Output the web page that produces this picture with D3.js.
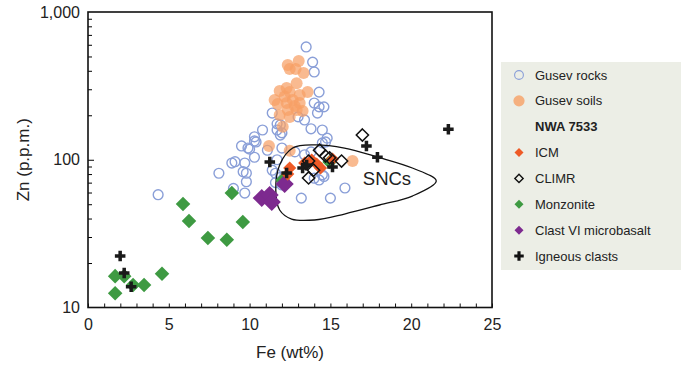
<!DOCTYPE html>
<html>
<head>
<meta charset="utf-8">
<script src="https://d3js.org/d3.v7.min.js"></script>
<style>
  body { margin: 0; background: #fff; }
  svg { font-family: "Liberation Sans", Arial, Helvetica, sans-serif; }
</style>
</head>
<body>
<div id="chart"></div>
<script>
// Data: [Fe wt%, Zn ppm]
const gusevRocks = [
  [4.34, 58], [13.5, 580], [13.9, 458], [14.0, 393], [14.3, 287], [14.0, 242], [14.3, 228],
  [14.6, 228], [14.2, 207], [11.4, 207], [11.7, 175], [11.7, 159], [12.0, 152], [10.8, 159],
  [10.3, 143], [10.3, 134], [13.4, 186], [13.8, 162], [14.5, 159], [14.8, 140], [14.7, 132],
  [9.5, 124], [13.0, 195], [9.9, 120], [9.1, 97], [9.7, 95], [9.6, 83], [9.8, 71], [9.7, 59.5],
  [13.2, 55], [15.0, 55], [15.9, 64.4], [14.5, 79], [13.4, 108], [14.5, 130], [8.1, 81],
  [8.9, 95], [10.0, 118], [10.3, 104], [10.4, 132], [9.8, 81], [9.0, 64], [11.9, 147],
  [11.1, 116], [11.7, 100], [11.6, 81], [11.6, 70], [11.9, 172], [12.0, 120], [13.8, 113],
  [14.6, 77], [11.9, 76], [12.0, 67.5], [12.8, 113], [14.0, 75], [14.3, 73], [11.4, 85]
];
const gusevSoils = [
  [12.36, 438], [13.04, 466], [12.85, 411], [12.48, 411], [13.34, 386], [12.91, 330],
  [12.29, 306], [11.86, 292], [13.59, 287], [12.48, 287], [13.1, 274], [12.67, 254],
  [11.74, 238], [12.29, 242], [13.1, 242], [13.28, 214], [12.91, 217], [12.36, 217],
  [11.86, 201], [12.48, 195], [12.05, 167], [11.2, 124], [12.48, 115], [16.37, 98],
  [11.55, 254], [12.17, 268], [12.79, 231]
];
const icm = [[12.48, 88], [12.36, 80], [13.41, 95], [13.84, 99.6], [14.15, 93.6], [14.39, 88], [15.13, 101]];
const climr = [[16.98, 147], [14.33, 116], [14.7, 106], [15.69, 98], [13.65, 98], [13.96, 85], [13.65, 75.3], [14.95, 103]];
const monzonite = [
  [8.9, 59.6], [5.88, 50.2], [6.25, 38.5], [7.42, 29.5], [8.59, 28.7], [9.58, 37.9],
  [1.68, 16.3], [2.24, 16.3], [1.68, 12.5], [2.79, 14.2], [3.47, 14.2], [4.58, 16.9],
  [14.95, 96.6], [12.05, 73]
];
const clastVI = [[10.75, 55.1], [11.24, 57.7], [11.37, 51.8], [12.17, 68.5]];
const igneous = [
  [22.3, 161], [17.23, 124], [17.91, 104], [11.25, 96.6], [12.29, 81.4], [13.28, 87.9],
  [13.53, 92], [15.13, 89.3], [1.99, 22.3], [2.24, 17.1], [2.67, 13.8]
];
// SNC field outline
const sncField = [
  [21.55, 71.8], [20.07, 87.9], [17.91, 104.4], [15.87, 120], [14.02, 126], [12.67, 120],
  [11.86, 92.2], [11.62, 62.4], [11.86, 45.7], [12.6, 39.7], [14.02, 39.1], [15.87, 42.9],
  [18.04, 49.4], [20.07, 56.8]
];

const xTicks = [0, 5, 10, 15, 20, 25];
const yTicks = [10, 100, 1000];

const width = 681, height = 367;
const margin = { top: 12, right: 189, bottom: 59.5, left: 88 };

const svg = d3.select("#chart").append("svg")
  .attr("width", width)
  .attr("height", height);

const x = d3.scaleLinear().domain([0, 25]).range([margin.left, width - margin.right]);
const y = d3.scaleLog().domain([10, 1000]).range([height - margin.bottom, margin.top]);

const diamond = d3.symbol().type(d3.symbolDiamond2);

// blue open circles
svg.append("g").selectAll("circle").data(gusevRocks).enter().append("circle")
  .attr("cx", d => x(d[0])).attr("cy", d => y(d[1])).attr("r", 4.9)
  .attr("fill", "none").attr("stroke", "#8a9fd8").attr("stroke-width", 1.4);

// orange soils
svg.append("g").selectAll("circle").data(gusevSoils).enter().append("circle")
  .attr("cx", d => x(d[0])).attr("cy", d => y(d[1])).attr("r", 6)
  .attr("fill", "#f7a065").attr("fill-opacity", 0.72);

// SNC outline
svg.append("path")
  .datum(sncField)
  .attr("d", d3.line().x(d => x(d[0])).y(d => y(d[1])).curve(d3.curveCatmullRomClosed.alpha(0.5)))
  .attr("fill", "none").attr("stroke", "#111").attr("stroke-width", 1.3);

svg.append("text").attr("x", x(18.5)).attr("y", y(67)).attr("text-anchor", "middle")
  .attr("font-size", 18.5).attr("fill", "#222").text("SNCs");

function diamonds(data, size, fill, stroke) {
  svg.append("g").selectAll("path").data(data).enter().append("path")
    .attr("transform", d => `translate(${x(d[0])},${y(d[1])})`)
    .attr("d", diamond.size(size)())
    .attr("fill", fill)
    .attr("stroke", stroke || "none")
    .attr("stroke-width", stroke ? 1.5 : 0);
}
diamonds(monzonite, 135, "#3e9a42");
diamonds(clastVI, 210, "#7d2a8f");
diamonds(icm, 110, "#ee5a26");
diamonds(climr, 95, "none", "#111");

const plus = d3.symbol().type(d3.symbolCross).size(62);
svg.append("g").selectAll("path").data(igneous).enter().append("path")
  .attr("transform", d => `translate(${x(d[0])},${y(d[1])})`)
  .attr("d", plus()).attr("fill", "#1a1a1a");

// axes
const xAxis = svg.append("g")
  .attr("transform", `translate(0,${height - margin.bottom})`)
  .call(d3.axisBottom(x).tickValues(d3.range(0, 26, 1)).tickSize(-4).tickPadding(8)
    .tickFormat(d => xTicks.includes(d) ? d : ""));
xAxis.select(".domain").remove();
xAxis.selectAll("text").attr("font-size", 16).attr("fill", "#222").attr("dy", "0.75em").attr("y", 10);
xAxis.selectAll("line").attr("stroke", "#111");

const minorY = [20, 30, 40, 50, 60, 70, 80, 90, 200, 300, 400, 500, 600, 700, 800, 900];
const yAxis = svg.append("g")
  .attr("transform", `translate(${margin.left},0)`)
  .call(d3.axisLeft(y).tickValues(yTicks).tickSize(0).tickPadding(8).tickFormat(d3.format(",")));
yAxis.select(".domain").remove();
yAxis.selectAll("text").attr("font-size", 16).attr("fill", "#222");

svg.append("g").attr("transform", `translate(${margin.left},0)`)
  .call(d3.axisRight(y).tickValues(minorY).tickSize(4).tickFormat(""))
  .call(g => g.select(".domain").remove());
svg.append("g").attr("transform", `translate(${margin.left},0)`)
  .call(d3.axisRight(y).tickValues([100]).tickSize(6).tickFormat(""))
  .call(g => g.select(".domain").remove());

// frame
svg.append("rect")
  .attr("x", margin.left).attr("y", margin.top)
  .attr("width", width - margin.left - margin.right)
  .attr("height", height - margin.top - margin.bottom)
  .attr("fill", "none").attr("stroke", "#111").attr("stroke-width", 1.6);

svg.append("text").attr("x", (x(0) + x(25)) / 2).attr("y", 358).attr("text-anchor", "middle")
  .attr("font-size", 17).attr("fill", "#222").text("Fe (wt%)");
svg.append("text").attr("transform", `translate(29,${y(100)}) rotate(-90)`).attr("text-anchor", "middle")
  .attr("font-size", 17).attr("fill", "#222").text("Zn (p.p.m.)");

// legend
const legendItems = [
  { label: "Gusev rocks", kind: "ring" },
  { label: "Gusev soils", kind: "dot" },
  { label: "NWA 7533", kind: "header" },
  { label: "ICM", kind: "diamond", color: "#ee5a26" },
  { label: "CLIMR", kind: "open" },
  { label: "Monzonite", kind: "diamond", color: "#3e9a42" },
  { label: "Clast VI microbasalt", kind: "diamond", color: "#7d2a8f" },
  { label: "Igneous clasts", kind: "plus" }
];
const legend = svg.append("g");
legend.append("rect").attr("x", 501).attr("y", 62).attr("width", 180).attr("height", 208).attr("fill", "#eceee6");
const rowY = d3.scaleLinear().domain([0, 7]).range([75, 256]);
const rows = legend.selectAll("g.item").data(legendItems).enter().append("g")
  .attr("class", "item")
  .attr("transform", (d, i) => `translate(519,${rowY(i)})`);
rows.each(function (d) {
  const g = d3.select(this);
  if (d.kind === "ring") g.append("circle").attr("r", 4.4).attr("fill", "none").attr("stroke", "#8a9fd8").attr("stroke-width", 1.1);
  if (d.kind === "dot") g.append("circle").attr("r", 5.6).attr("fill", "#f7a065").attr("fill-opacity", 0.8);
  if (d.kind === "diamond") g.append("path").attr("d", d3.symbol().type(d3.symbolDiamond2).size(52)()).attr("fill", d.color);
  if (d.kind === "open") g.append("path").attr("d", d3.symbol().type(d3.symbolDiamond2).size(44)()).attr("fill", "none").attr("stroke", "#111").attr("stroke-width", 1.4);
  if (d.kind === "plus") g.append("path").attr("d", d3.symbol().type(d3.symbolCross).size(50)()).attr("fill", "#111");
});
rows.append("text").attr("x", 16).attr("dy", "0.35em")
  .attr("font-size", 13).attr("fill", "#222")
  .attr("font-weight", d => d.kind === "header" ? "bold" : "normal")
  .text(d => d.label);
</script>
</body>
</html>
